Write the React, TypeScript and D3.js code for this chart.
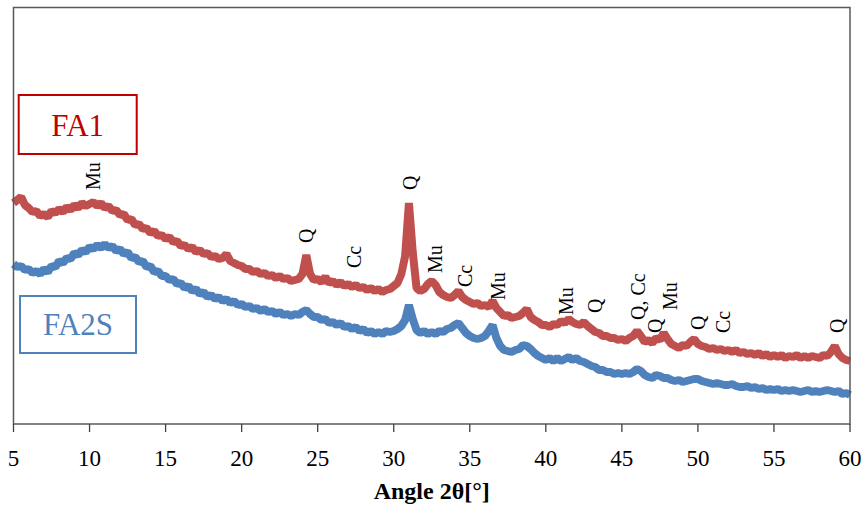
import React from "react";
import * as d3 from "d3";

const angleStart = 5;
const angleStep = 0.25;

const fa1Intensity = [
  221, 224, 227, 219, 216, 212, 213, 208, 210, 207, 213, 211, 215, 212, 217, 214, 219, 216, 221, 218, // 5-9.75
  220, 222, 218, 221, 216, 218, 213, 214, 209, 210, 204, 205, 199, 200, 195, 196, 191, 193, 188, 189, // 10-14.75
  185, 187, 182, 183, 178, 179, 175, 177, 172, 174, 170, 171, 167, 168, 165, 166, 170, 163, 161, 159, // 15-19.75
  158, 155, 155, 152, 153, 150, 151, 148, 149, 146, 148, 145, 146, 143, 144, 145, 150, 169, 150, 144, // 20-24.75
  145, 142, 147, 141, 143, 139, 142, 138, 140, 137, 139, 136, 137, 134, 136, 133, 135, 132, 134, 135, // 25-29.75
  138, 141, 150, 168, 221, 172, 136, 133, 135, 140, 143, 139, 132, 129, 127, 126, 129, 133, 127, 124, // 30-34.75
  122, 120, 121, 118, 119, 117, 123, 116, 112, 108, 109, 106, 107, 108, 111, 115, 107, 104, 102, 99, // 35-39.75
  99, 97, 100, 99, 103, 101, 105, 102, 100, 99, 102, 98, 95, 92, 91, 88, 88, 86, 86, 84, // 40-44.75
  85, 83, 86, 88, 93, 88, 82, 84, 81, 86, 84, 91, 85, 80, 78, 76, 79, 78, 82, 85, // 45-49.75
  80, 78, 77, 75, 76, 74, 75, 73, 74, 72, 74, 71, 72, 70, 71, 69, 71, 68, 70, 67, // 50-54.75
  69, 67, 69, 66, 68, 67, 69, 66, 68, 66, 68, 67, 66, 69, 68, 72, 78, 70, 66, 64, // 55-59.75
  63, // 60
];

const fa2sIntensity = [
  160, 157, 158, 154, 155, 151, 153, 150, 155, 152, 158, 157, 163, 161, 166, 165, 171, 169, 174, 172, // 5-9.75
  177, 175, 179, 176, 180, 176, 178, 173, 175, 170, 172, 166, 167, 162, 163, 157, 158, 152, 153, 148, // 10-14.75
  148, 144, 145, 140, 141, 136, 138, 133, 135, 130, 132, 127, 129, 125, 127, 123, 125, 121, 123, 119, // 15-19.75
  120, 117, 118, 115, 116, 113, 115, 112, 113, 110, 112, 109, 110, 108, 110, 109, 112, 114, 110, 107, // 20-24.75
  107, 104, 105, 101, 102, 99, 101, 97, 98, 95, 97, 93, 95, 91, 93, 90, 92, 90, 93, 92, // 25-29.75
  93, 95, 98, 104, 119, 105, 94, 91, 93, 90, 92, 90, 93, 92, 95, 96, 99, 101, 96, 91, // 30-34.75
  88, 86, 85, 86, 88, 93, 99, 86, 78, 74, 73, 72, 74, 75, 79, 78, 75, 71, 68, 66, // 35-39.75
  64, 66, 63, 66, 63, 65, 67, 64, 66, 63, 62, 60, 58, 57, 54, 54, 52, 52, 50, 51, // 40-44.75
  50, 51, 50, 52, 55, 53, 49, 47, 46, 49, 48, 46, 46, 44, 43, 44, 42, 43, 44, 45, // 45-49.75
  45, 43, 42, 41, 40, 41, 40, 39, 39, 40, 38, 37, 37, 38, 36, 37, 35, 36, 34, 35, // 50-54.75
  34, 35, 33, 34, 33, 34, 33, 32, 33, 34, 32, 33, 32, 33, 34, 33, 32, 33, 30, 31, // 55-59.75
  29, // 60
];

// phase labels: text, angle, intensity where the label starts
const peakText = ["Mu", "Q", "Cc", "Q", "Mu", "Cc", "Mu", "Mu", "Q", "Q, Cc", "Q", "Mu", "Q", "Cc", "Q"];
const peakAngle = [10.23, 24.23, 27.39, 31.07, 32.71, 34.68, 36.85, 41.33, 43.23, 46.06, 47.18, 48.16, 50.0, 51.65, 59.14];
const peakBase = [234, 181, 156, 234, 151, 137, 124, 109, 111, 104, 91, 114, 94, 91, 91];

const xTicks = [5, 10, 15, 20, 25, 30, 35, 40, 45, 50, 55, 60];

const W = 862;
const H = 508;
const left = 13.5;
const right = 850;
const top = 7.5;
const bottom = 424;

const serif = '"Liberation Serif", "Times New Roman", Times, serif';

export default function App() {
  const x = d3.scaleLinear().domain([5, 60]).range([left, right]);
  const y = d3.scaleLinear().domain([0, 416.5]).range([bottom, top]);

  const toPts = (vals: number[]) => vals.map((v, i) => [angleStart + i * angleStep, v] as [number, number]);
  const fa1 = toPts(fa1Intensity);
  const fa2s = toPts(fa2sIntensity);

  const line = d3
    .line<[number, number]>()
    .x((d) => x(d[0]))
    .y((d) => y(d[1]));

  const txt = { fontFamily: serif };

  return (
    <svg width={W} height={H} style={{ position: "absolute", left: 0, top: 0, background: "#fff" }}>
      <rect x={0} y={0} width={W} height={H} fill="#fff" />

      {/* series */}
      <path d={line(fa2s) || ""} fill="none" stroke="#4f81bd" strokeWidth={8} strokeLinejoin="bevel" />
      <path d={line(fa1) || ""} fill="none" stroke="#c0504d" strokeWidth={8} strokeLinejoin="bevel" />

      {/* plot frame */}
      <rect
        x={left}
        y={top}
        width={right - left}
        height={bottom - top}
        fill="none"
        stroke="#595959"
        strokeWidth={1.5}
      />

      {/* x axis ticks + labels */}
      {xTicks.map((t) => (
        <g key={t} transform={`translate(${x(t)},${bottom})`}>
          <line y1={0} y2={8} stroke="#404040" strokeWidth={1.3} />
          <text y={42} textAnchor="middle" fontSize={23} fill="#000" style={txt}>
            {t}
          </text>
        </g>
      ))}
      <text
        x={(left + right) / 2}
        y={499}
        textAnchor="middle"
        fontSize={24}
        fontWeight="bold"
        fill="#000"
        style={txt}
      >
        Angle 2θ[°]
      </text>

      {/* phase labels */}
      {peakText.map((t, i) => (
        <text
          key={i}
          transform={`translate(${x(peakAngle[i])},${y(peakBase[i])}) rotate(-90)`}
          dy="0.35em"
          fontSize={20}
          fill="#000"
          style={txt}
        >
          {t}
        </text>
      ))}

      {/* sample boxes */}
      <rect x={18.7} y={95} width={118} height={59} fill="#fff" stroke="#c00000" strokeWidth={2} />
      <text x={77.7} y={136} textAnchor="middle" fontSize={31} fill="#c00000" style={txt}>
        FA1
      </text>
      <rect x={20} y={296} width={116} height={57} fill="#fff" stroke="#4f81bd" strokeWidth={2} />
      <text x={78} y={335} textAnchor="middle" fontSize={31} fill="#4f81bd" style={txt}>
        FA2S
      </text>
    </svg>
  );
}
